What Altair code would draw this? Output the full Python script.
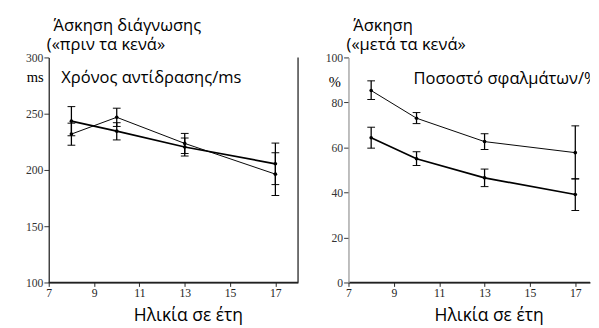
import altair as alt
import pandas as pd

ages = [8, 10, 13, 17]

# Left panel: reaction time (ms)
rt_a = [243.4, 234.5, 220.4, 205.5]
rt_a_lo = [230.4, 226.7, 212.4, 187.0]
rt_a_hi = [256.3, 242.0, 228.4, 223.9]
rt_b = [231.9, 246.8, 223.6, 196.3]
rt_b_lo = [222.0, 238.7, 214.6, 177.3]
rt_b_hi = [241.6, 254.9, 232.5, 215.3]

# Right panel: error rate (%)
er_c = [85.3, 73.0, 62.6, 57.7]
er_c_lo = [81.3, 70.6, 59.1, 46.0]
er_c_hi = [89.6, 75.5, 66.1, 69.6]
er_d = [64.3, 55.0, 46.5, 39.1]
er_d_lo = [59.7, 52.0, 42.6, 32.0]
er_d_hi = [69.0, 58.1, 50.4, 46.1]

x_ticks = [7, 9, 11, 13, 15, 17]
left_ticks_y = [100, 150, 200, 250, 300]
right_ticks_y = [0, 20, 40, 60, 80, 100]

SERIF = "Liberation Serif"
SANS = "Open Sans"
W_L, W_R, H = 257, 249, 232


def panel(series, ydom, yticks, xdom, width, ycolor, texts, border):
    xs = alt.Scale(domain=xdom, nice=False, zero=False)
    ys = alt.Scale(domain=ydom, nice=False, zero=False)
    xa = alt.Axis(values=x_ticks, title=None, grid=False, labelOverlap=False,
                  labelFont=SERIF, labelFontSize=12, labelColor="#222",
                  domainColor="#222", tickColor="#222", domainWidth=1.3,
                  tickSize=4, labelPadding=1, labelFlush=False, zindex=1)
    ya = alt.Axis(values=yticks, title=None, grid=False, labelOverlap=False,
                  labelFont=SERIF, labelFontSize=12, labelColor="#333",
                  domainColor=ycolor, tickColor="#333", domainWidth=1.3,
                  tickSize=5, labelPadding=1, labelFlush=False, zindex=1)
    X = lambda f: alt.X(f, type="quantitative", scale=xs, axis=xa)
    Y = lambda f: alt.Y(f, type="quantitative", scale=ys, axis=ya)

    layers = []
    # bottom frame line (drawn from the scale, backs up the axis domain)
    fdf = pd.DataFrame({"f0": [xdom[0]], "f1": [xdom[1]], "fy": [ydom[0]]})
    layers.append(alt.Chart(fdf).mark_rule(color="#222", strokeWidth=1.3).encode(
        x=X("f0"), x2="f1", y=Y("fy")))
    for v, lo, hi, sw in series:
        df = pd.DataFrame({"age": ages, "v": v, "lo": lo, "hi": hi})
        base = alt.Chart(df)
        layers.append(base.mark_line(color="black", strokeWidth=sw).encode(
            x=X("age"), y=Y("v")))
        layers.append(base.mark_rule(color="black", strokeWidth=1.3).encode(
            x=X("age"), y=Y("lo"), y2="hi"))
        for f in ("lo", "hi"):
            layers.append(base.mark_tick(color="black", orient="horizontal",
                                         size=8, opacity=1).encode(
                x=X("age"), y=Y(f)))
        layers.append(base.mark_point(color="black", size=14, filled=True,
                                      opacity=1).encode(x=X("age"), y=Y("v")))
    if border is not None:
        bdf = pd.DataFrame({"bx": [border], "b0": [ydom[0]], "b1": [ydom[1]]})
        layers.append(alt.Chart(bdf).mark_rule(color="#222", strokeWidth=1.3).encode(
            x=X("bx"), y=Y("b0"), y2="b1"))
    one = pd.DataFrame({"k": [0]})
    for txt, tx, ty, font, fs, align, bl, clip in texts:
        layers.append(alt.Chart(one).mark_text(
            text=txt, font=font, fontSize=fs, align=align, baseline=bl,
            color="black", clip=clip).encode(x=alt.value(tx), y=alt.value(ty)))
    return alt.layer(*layers).properties(width=width, height=H)


left = panel(
    [(rt_a, rt_a_lo, rt_a_hi, 1.8), (rt_b, rt_b_lo, rt_b_hi, 1.0)],
    [100, 300], left_ticks_y, [7, 18], W_L, "#222",
    [("Άσκηση διάγνωσης", 5, -27, SANS, 17, "left", "alphabetic", False),
     ("(«πριν τα κενά»", -2, -8, SANS, 17, "left", "alphabetic", False),
     ("ms", -14, 20, SERIF, 15, "center", "middle", False),
     ("Χρόνος αντίδρασης/ms", 13, 21, SANS, 17, "left", "middle", False),
     ("Ηλικία σε έτη", 144, 272, SANS, 18, "center", "alphabetic", False)],
    18)

right = panel(
    [(er_c, er_c_lo, er_c_hi, 1.0), (er_d, er_d_lo, er_d_hi, 1.8)],
    [0, 100], right_ticks_y, [7, 17.65], W_R, "#999",
    [("Άσκηση", 5, -27, SANS, 17, "left", "alphabetic", False),
     ("(«μετά τα κενά»", -2, -8, SANS, 17, "left", "alphabetic", False),
     ("%", -14, 25, SERIF, 15, "center", "middle", False),
     ("Ποσοστό σφαλμάτων/%", 67, 22, SANS, 17, "left", "middle", True),
     ("Ηλικία σε έτη", 145, 272, SANS, 18, "center", "alphabetic", False)],
    None)

chart = alt.hconcat(left, right, spacing=27).properties(
    padding={"left": 18, "top": 5, "right": 0, "bottom": 0}
).configure_view(stroke=None)

chart.save("out.html", embed_options={"renderer": "svg", "actions": False})
